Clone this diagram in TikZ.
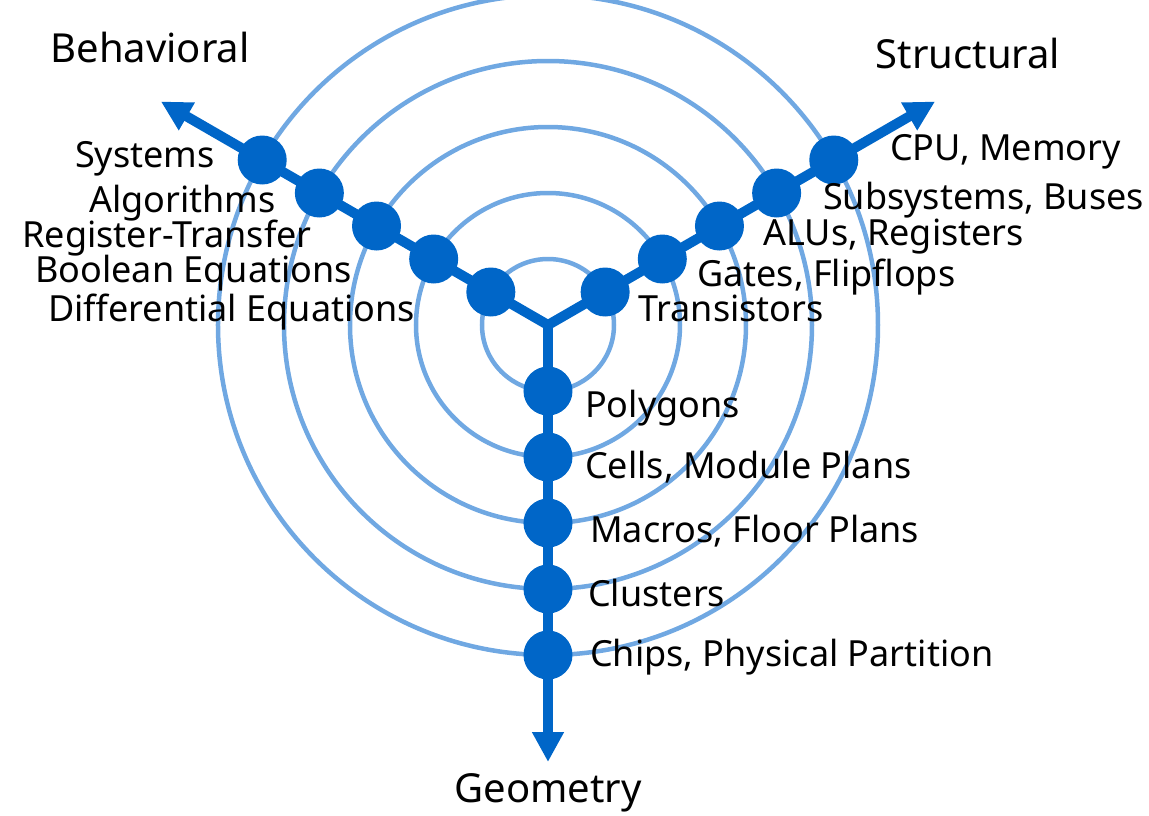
\documentclass[tikz,border=0pt]{standalone}
\usepackage{fontspec}
\setmainfont{Noto Sans}
\usetikzlibrary{arrows.meta,positioning}
\definecolor{YBlue}{HTML}{0066C8}
\definecolor{RingBlue}{HTML}{70A8E2}
\tikzset{
  % Level ring
  ring/.style={draw=RingBlue,line width=4.5pt},
  % Axis with arrow head
  arr/.style={draw=YBlue,line width=10pt,-{Triangle[length=30pt,width=30pt]}},
  % Dot on an axis
  dot/.style={circle,fill=YBlue,minimum size=49pt,inner sep=0pt},
  % Label styles
  lbl/.style={font=\fontsize{36}{40}\selectfont,inner sep=0pt},
  hd/.style={font=\fontsize{40}{44}\selectfont,inner sep=0pt}
}
\begin{document}
\begin{tikzpicture}[x=1pt,y=1pt]
  \useasboundingbox (-548,325) rectangle (601,-490);
  \coordinate (c) at (0,0);
  \foreach \r in {1,...,5}
    \draw[ring] (c) circle[radius=\r*66pt];
  % axes
  \coordinate (lt) at (150:447pt);
  \coordinate (rt) at (30:447pt);
  \coordinate (gt) at (0,-437);
  \draw[arr] (c) -- (lt);
  \draw[arr] (c) -- (rt);
  \draw[arr] (c) -- (gt);
  \foreach \i in {1,...,5} {
    \node[dot] (l\i) at (150:\i*66pt) {};
    \node[dot] (r\i) at (30:\i*66pt) {};
    \node[dot] (g\i) at (270:\i*66pt) {};
  }
  % headings
  \node[hd] (beh) at (-398,278) {Behavioral};
  \node[hd] (str) at (420,272) {Structural};
  \node[hd] (geo) at (0,-468) {Geometry};
  % behavioral levels
  \node[lbl,anchor=east] (sys) at (-333,166) {Systems};
  \node[lbl,anchor=east] (alg) at (-272,122) {Algorithms};
  \node[lbl,anchor=east] (rtl) at (-236,87) {Register-Transfer};
  \node[lbl,anchor=east] (boo) at (-196,52) {Boolean Equations};
  \node[lbl,anchor=east] (dif) at (-133,13) {Differential Equations};
  % structural levels
  \node[lbl,anchor=west] (cpu) at (342,173) {CPU, Memory};
  \node[lbl,anchor=west] (sub) at (275,125) {Subsystems, Buses};
  \node[lbl,anchor=west] (alu) at (215,88) {ALUs, Registers};
  \node[lbl,anchor=west] (gat) at (149,48) {Gates, Flipflops};
  \node[lbl,anchor=west] (tra) at (90,17) {Transistors};
  % geometry levels
  \node[lbl,anchor=west] (pol) at (37,-83) {Polygons};
  \node[lbl,anchor=west] (cel) at (37,-142) {Cells, Module Plans};
  \node[lbl,anchor=west] (mac) at (42,-206) {Macros, Floor Plans};
  \node[lbl,anchor=west] (clu) at (40,-268) {Clusters};
  \node[lbl,anchor=west] (chi) at (42,-332) {Chips, Physical Partition};
\end{tikzpicture}
\end{document}
